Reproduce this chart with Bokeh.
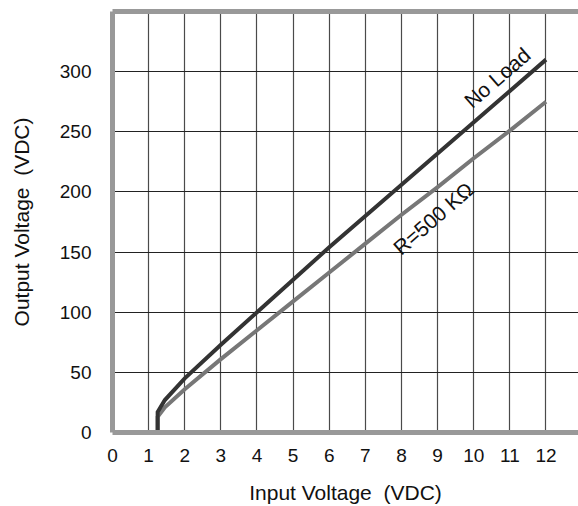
from bokeh.plotting import figure
from bokeh.models import FixedTicker, LinearAxis, Range1d
from bokeh.core.properties import value
from bokeh.embed import file_html
from bokeh.resources import INLINE

# Data
x_ticks = [0, 1, 2, 3, 4, 5, 6, 7, 8, 9, 10, 11, 12]
y_ticks = [0, 50, 100, 150, 200, 250, 300]

no_load_x = [1.25, 1.25, 1.45, 2, 3, 4, 5, 6, 7, 8, 9, 10, 11, 12]
no_load_y = [0, 17, 27, 45, 73, 100, 127, 154, 180, 206, 232, 258, 284, 310]

r500_x = [1.25, 1.25, 1.45, 2, 3, 4, 5, 6, 7, 8, 9, 10, 11, 12]
r500_y = [0, 13, 21, 36, 61, 85, 109, 133, 157, 181, 204, 228, 251, 275]

label_text = ["No Load", "R=500 KΩ"]
label_x = [10.65, 8.88]
label_y = [295, 178]

FONT = "Liberation Sans"

p = figure(width=578, height=506, output_backend="svg", toolbar_location=None,
           x_range=Range1d(0, 12.9), y_range=Range1d(0, 350),
           min_border_left=112, min_border_right=0, min_border_top=11,
           min_border_bottom=73)
p.outline_line_color = None
p.background_fill_color = "white"

# grid
p.xgrid.ticker = FixedTicker(ticks=x_ticks[1:])
p.ygrid.ticker = FixedTicker(ticks=y_ticks[1:])
p.xgrid.grid_line_color = "#4a4a4a"
p.xgrid.grid_line_width = 1.2
p.ygrid.grid_line_color = "#222222"
p.ygrid.grid_line_width = 1.2

for ax, ticks in ((p.xaxis[0], x_ticks), (p.yaxis[0], y_ticks)):
    ax.ticker = FixedTicker(ticks=ticks)
    ax.axis_line_color = "#999999"
    ax.axis_line_width = 5
    ax.major_tick_line_color = None
    ax.minor_tick_line_color = None
    ax.major_label_text_font = FONT
    ax.major_label_text_font_size = "19px"
    ax.major_label_text_color = "#111111"
    ax.axis_label_text_font = FONT
    ax.axis_label_text_font_size = "21px"
    ax.axis_label_text_font_style = "normal"
    ax.axis_label_text_color = "#111111"

p.xaxis.axis_label = "Input Voltage\u00a0 (VDC)"
p.yaxis.axis_label = "Output Voltage\u00a0 (VDC)"
p.xaxis.major_label_standoff = 10
p.xaxis.axis_label_standoff = 16
p.yaxis.major_label_standoff = 15
p.yaxis.axis_label_standoff = 24

top = LinearAxis(ticker=FixedTicker(ticks=[]), axis_line_color="#999999",
                 axis_line_width=5, major_tick_line_color=None,
                 minor_tick_line_color=None, major_label_text_font_size="0px")
p.add_layout(top, "above")

p.line(r500_x, r500_y, line_color="#777777", line_width=4, line_join="miter")
p.line(no_load_x, no_load_y, line_color="#333333", line_width=4, line_join="miter")

p.text(x=label_x, y=label_y, text=label_text, angle=41, angle_units="deg",
       text_font=value(FONT), text_font_size="21px", text_color="#111111",
       text_align="center", text_baseline="middle")

open("out.html", "w").write(file_html(p, INLINE))
